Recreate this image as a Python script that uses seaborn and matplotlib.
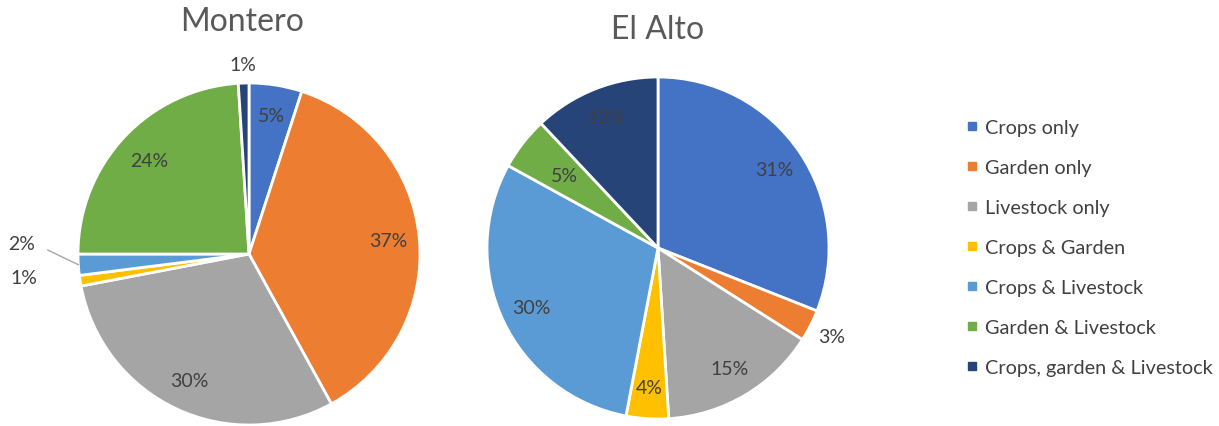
import matplotlib
matplotlib.use("Agg")
import matplotlib.pyplot as plt
from matplotlib.lines import Line2D
import seaborn as sns
import numpy as np

categories = ["Crops only", "Garden only", "Livestock only", "Crops & Garden",
              "Crops & Livestock", "Garden & Livestock", "Crops, garden & Livestock"]
montero = [5, 37, 30, 1, 2, 24, 1]
el_alto = [31, 3, 15, 4, 30, 5, 12]
titles = ["Montero", "El Alto"]

sns.set_theme(style="white")
colors = ["#4472C4", "#ED7D31", "#A5A5A5", "#FFC000", "#5B9BD5", "#70AD47", "#264478"]
plt.rcParams["font.family"] = ["Lato", "DejaVu Sans"]
TXT = "#404040"

fig = plt.figure(figsize=(12.19, 4.27), dpi=100)
W, H = 1219, 427
R = 171

def make_ax(cx, cy):
    return fig.add_axes([(cx - R) / W, (H - cy - R) / H, 2 * R / W, 2 * R / H])

def draw(ax, vals, title, title_x, title_y, label_r, outside):
    wedges, _ = ax.pie(vals, colors=colors, startangle=90, counterclock=False,
                       wedgeprops=dict(edgecolor="white", linewidth=2))
    for i, (w, v) in enumerate(zip(wedges, vals)):
        ang = np.deg2rad((w.theta1 + w.theta2) / 2)
        if i in outside:
            r, dx, dy, line = outside[i]
            x = r * np.cos(ang) + dx
            y = r * np.sin(ang) + dy
            if line:
                ax.plot([x + 0.15, np.cos(ang) * 1.0], [y - 0.04, np.sin(ang) * 1.0],
                        color="#A5A5A5", lw=1, clip_on=False)
        else:
            r = label_r.get(i, 0.82)
            x, y = r * np.cos(ang), r * np.sin(ang)
        ax.text(x, y, f"{v}%", ha="center", va="center", fontsize=14, color=TXT)
    ax.set_xlim(-1, 1)
    ax.set_ylim(-1, 1)
    ax.set_aspect("equal")
    ax.axis("off")
    ax.text(title_x, title_y, title, ha="center", va="center", fontsize=23, color="#595959",
            transform=ax.transData, clip_on=False)

ax1 = make_ax(249, 255)
draw(ax1, montero, titles[0], -0.04, 1.36, {5: 0.8},
     {6: (1.11, 0, 0, False), 4: (1.33, 0, 0.147, True), 3: (1.33, 0, 0.073, False)})

ax2 = make_ax(658, 249)
draw(ax2, el_alto, titles[1], 0.0, 1.28, {5: 0.69}, {1: (1.14, 0, 0, False)})

handles = [Line2D([0], [0], marker="s", linestyle="none", markersize=6,
                  markerfacecolor=c, markeredgecolor=c) for c in colors]
fig.legend(handles, categories, loc="upper left", bbox_to_anchor=(948 / W, 1 - 102 / H),
           frameon=False, fontsize=14.3, labelspacing=1.16, handlelength=0.6,
           handletextpad=0.35, labelcolor=TXT)

fig.savefig("out.png", dpi=100)
